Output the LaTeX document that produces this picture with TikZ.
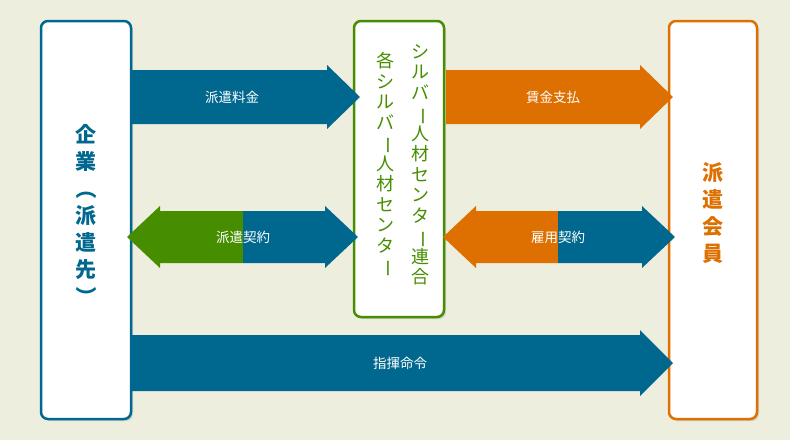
\documentclass[tikz,border=0pt]{standalone}
\usepackage{fontspec}
\setmainfont{Noto Sans CJK JP}
\usetikzlibrary{shadows}
\definecolor{bg}{HTML}{EEEEDF}
\definecolor{teal}{HTML}{00688E}
\definecolor{grn}{HTML}{468E00}
\definecolor{org}{HTML}{DD7000}
\newcommand{\vbar}{\rotatebox[origin=c]{-90}{ー}}
\newcommand{\vp}[1]{\rotatebox[origin=c]{-90}{#1}}
\tikzset{
 box/.style={draw=#1,line width=2.5pt,fill=white,rounded corners=7pt,drop shadow={opacity=0.25,shadow xshift=2pt,shadow yshift=-2pt}},
 vtext/.style={align=center,font=\bfseries\fontsize{21}{27}\selectfont,text=#1},
 lab/.style={text=white,font=\fontsize{13.5}{15}\selectfont}
}
\begin{document}
\begin{tikzpicture}[x=1pt,y=-1pt]
\fill[bg] (0,0) rectangle (790,440);
\useasboundingbox (0,0) rectangle (790,440);
% boxes
\draw[box=teal] (41,21) rectangle (131,419);
\draw[box=grn] (354,21) rectangle (444,317);
\draw[box=org] (669,21) rectangle (757,419);
% arrows
\fill[teal] (132,70) -- (327,70) -- (327,65) -- (360,97) -- (327,129) -- (327,124) -- (132,124) -- cycle;
\node[lab] (a1) at (232,97) {派遣料金};
\fill[org] (446,70) -- (640,70) -- (640,65) -- (673,97) -- (640,129) -- (640,124) -- (446,124) -- cycle;
\node[lab] (a2) at (553,97) {賃金支払};
\fill[grn] (243,211) -- (160,211) -- (160,206) -- (127,237) -- (160,268) -- (160,263) -- (243,263) -- cycle;
\fill[teal] (243,211) -- (325,211) -- (325,206) -- (358,237) -- (325,268) -- (325,263) -- (243,263) -- cycle;
\node[lab] (a3) at (243,237) {派遣契約};
\fill[org] (558,211) -- (476,211) -- (476,206) -- (443,237) -- (476,268) -- (476,263) -- (558,263) -- cycle;
\fill[teal] (558,211) -- (642,211) -- (642,206) -- (675,237) -- (642,268) -- (642,263) -- (558,263) -- cycle;
\node[lab] (a4) at (558,237) {雇用契約};
\fill[teal] (132,335) -- (640,335) -- (640,330) -- (673,363) -- (640,396) -- (640,391) -- (132,391) -- cycle;
\node[lab] (a5) at (400,363) {指揮命令};
% texts
\node[vtext=teal] (t1) at (86,216) {企\\業\\\vp{（}\\派\\遣\\先\\\vp{）}};
\node[vtext=org] (t3) at (713,213) {派\\遣\\会\\員};
\node[align=center,text=grn,font=\fontsize{18}{20.5}\selectfont] (t2a) at (420,165) {シ\\ル\\バ\\\vbar\\人\\材\\セ\\ン\\タ\\\vbar\\連\\合};
\node[align=center,text=grn,font=\fontsize{18}{20.5}\selectfont] (t2b) at (385,165) {各\\シ\\ル\\バ\\\vbar\\人\\材\\セ\\ン\\タ\\\vbar};
\end{tikzpicture}
\end{document}
